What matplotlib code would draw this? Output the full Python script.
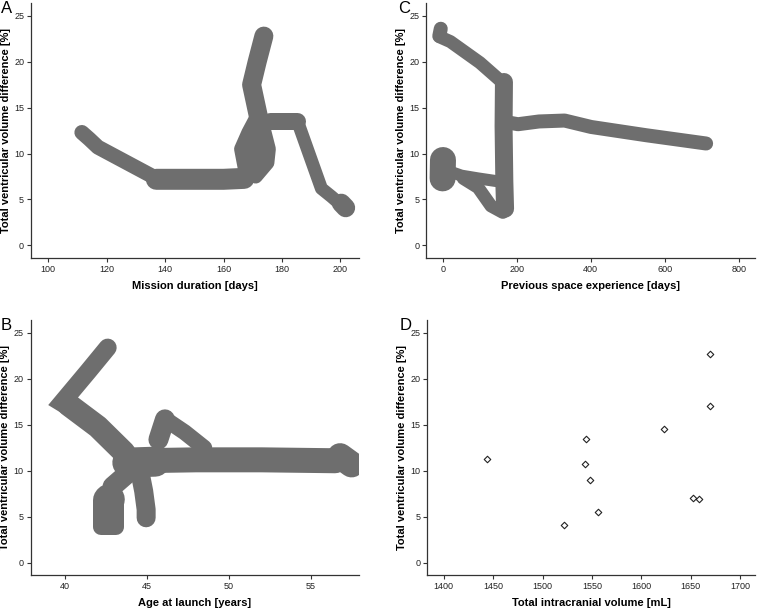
import matplotlib
matplotlib.use("Agg")
import matplotlib.pyplot as plt

plt.rcParams["font.family"] = ["Liberation Sans", "DejaVu Sans"]

GREY = "#6e6e6e"
AXC = "#333333"

# ── panel A: mission duration [days] vs ventricular volume difference [%]
# each stroke: x values, y values, stroke width in px, cap style
a_strokes = [
    ([111.5, 114, 117, 137], [12.3, 11.6, 10.7, 7.3], 15, "round"),
    ([137, 150, 160, 167], [7.2, 7.2, 7.2, 7.3], 21, "round"),
    ([167.5, 166, 168.5, 171], [8.0, 10.5, 12.3, 13.8], 14, "round"),
    ([171, 175, 175.5, 173.5], [7.5, 9.0, 10.5, 13.0], 14, "round"),
    ([170, 170.5], [9.0, 12.0], 20, "round"),
    ([172.3, 169.6, 171.5, 173.8], [13.5, 17.5, 20.0, 22.8], 19, "round"),
    ([176, 180, 185], [13.6, 13.6, 13.6], 17, "round"),
    ([186, 193.5, 197, 201], [12.9, 6.2, 5.3, 4.2], 13, "round"),
    ([200.3, 201.8], [4.6, 4.1], 19, "round"),
]

# ── panel B: age at launch [years]
b_strokes = [
    ([42.6, 41.4, 39.8, 41.0], [23.4, 20.8, 17.4, 16.1], 18, "round"),
    ([40.2, 42.0, 43.6], [17.2, 14.8, 12.0], 23, "round"),
    ([44.5, 48, 52, 56.5], [11.1, 11.2, 11.2, 11.1], 25, "round"),
    ([56.8, 57.5], [11.6, 10.7], 26, "round"),
    ([43.8, 45.5], [10.9, 11.0], 30, "round"),
    ([45.7, 46.1], [13.4, 15.6], 20, "round"),
    ([46.3, 47.3, 48.5], [15.4, 14.2, 12.5], 16, "round"),
    ([42.65, 42.65], [3.9, 6.8], 31, "butt"),
    ([42.65, 42.7], [6.8, 6.9], 31, "round"),
    ([42.2, 43.1], [3.9, 3.9], 16, "round"),
    ([42.9, 44.0], [8.3, 10.0], 20, "round"),
    ([44.6, 44.8, 44.95, 44.95], [9.6, 7.8, 5.8, 4.9], 19, "round"),
]

# ── panel C: previous space experience [days]
c_strokes = [
    ([-8, 20, 100, 165], [22.7, 22.2, 19.9, 17.6], 13, "round"),
    ([-10, -6], [22.8, 23.6], 14, "round"),
    ([165, 164, 166, 168], [17.8, 13.0, 7.0, 4.0], 18, "round"),
    ([175, 203, 260, 329, 401, 550, 712],
     [13.4, 13.2, 13.5, 13.6, 12.9, 12.0, 11.1], 14, "round"),
    ([-1, 0], [7.3, 9.3], 26, "round"),
    ([0, 50, 95, 145], [8.3, 7.6, 7.3, 7.0], 12, "round"),
    ([55, 95, 130, 162], [7.3, 6.3, 4.3, 3.6], 13, "round"),
]

# ── panel D: total intracranial volume [mL]
icv = [1444, 1522, 1543, 1544, 1548, 1556, 1623, 1652, 1658, 1669, 1669]
tvvd = [11.3, 4.1, 10.8, 13.5, 9.0, 5.5, 14.6, 7.0, 6.95, 22.7, 17.1]

panels = [
    # letter, rect, xlim, xticks, xlabel
    ("A", [0.041, 0.576, 0.433, 0.419], (94.1, 206.3), [100, 120, 140, 160, 180, 200],
     "Mission duration [days]"),
    ("C", [0.5632, 0.576, 0.4345, 0.419], (-45, 845), [0, 200, 400, 600, 800],
     "Previous space experience [days]"),
    ("B", [0.0406, 0.0538, 0.434, 0.4199], (37.9, 57.97), [40, 45, 50, 55],
     "Age at launch [years]"),
    ("D", [0.5645, 0.0538, 0.4335, 0.4199], (1383.4, 1715.5),
     [1400, 1450, 1500, 1550, 1600, 1650, 1700],
     "Total intracranial volume [mL]"),
]
strokes = {"A": a_strokes, "B": b_strokes, "C": c_strokes}

fig = plt.figure(figsize=(7.57, 6.08), dpi=100)

for letter, rect, xlim, xticks, xlabel in panels:
    ax = fig.add_axes(rect)
    if letter in strokes:
        for i, (xs, ys, w, cap) in enumerate(strokes[letter]):
            join = "miter" if (letter == "B" and i == 0) else "round"
            ax.plot(xs, ys, color=GREY, lw=w * 0.72,
                    solid_capstyle=cap, solid_joinstyle=join)
    else:
        ax.scatter(icv, tvvd, marker="D", s=11, facecolor="white",
                   edgecolor="#222222", linewidth=0.8, zorder=3)
    ax.set_xlim(*xlim)
    ax.set_ylim(-1.35, 26.4)
    ax.set_xticks(xticks)
    ax.set_yticks([0, 5, 10, 15, 20, 25])
    for s in ("top", "right"):
        ax.spines[s].set_visible(False)
    for s in ("left", "bottom"):
        ax.spines[s].set_color(AXC)
        ax.spines[s].set_linewidth(0.9)
    ax.tick_params(length=3, width=0.8, color=AXC, labelsize=6.5,
                   labelcolor="#222222", pad=2)
    ax.set_xlabel(xlabel, fontsize=8, fontweight="bold", labelpad=5)
    ax.set_ylabel("Total ventricular volume difference [%]", fontsize=8,
                  fontweight="bold", labelpad=2.5)
    fx = rect[0] - 0.041 if letter in "AB" else rect[0] - 0.038
    fig.text(fx + 0.001, rect[1] + rect[3] + 0.003, letter, fontsize=12,
             ha="left", va="top")

fig.savefig("out.png", dpi=100)
